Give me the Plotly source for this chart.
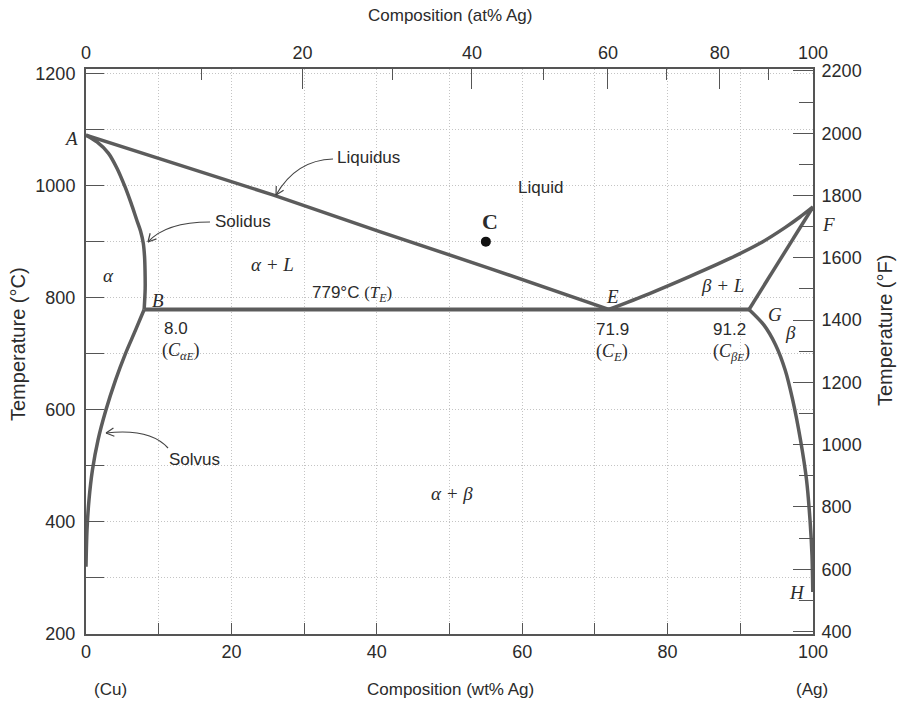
import math
import plotly.graph_objects as go

# ---------------- data ----------------
liq_left_wt = [0, 25.8, 40.4, 55.6, 71.9]
liq_left_T = [1090, 983, 918, 852, 779]

sol_left_wt = [0, 1.51, 3.07, 4.26, 5.36, 6.19, 6.97, 7.50, 7.88, 8.05, 8.12, 8.14, 8.0]
sol_left_T = [1090, 1078, 1058, 1031, 998, 969, 939, 919, 897, 874, 849, 817, 779]

solvus_left_wt = [8.0, 6.81, 5.36, 4.06, 2.75, 1.65, 0.89, 0.41, 0.14, 0.0]
solvus_left_T = [779, 742, 698, 653, 600, 546, 493, 439, 386, 320]

eutectic_wt = [8.0, 71.9, 91.2]
eutectic_T = [779, 779, 779]

liq_right_wt = [71.9, 77.44, 83.08, 88.58, 92.71, 96.15, 98.21, 100]
liq_right_T = [779, 807, 838, 870, 897, 925, 944, 962]

sol_right_wt = [91.2, 100]
sol_right_T = [779, 962]

solvus_right_wt = [91.2, 93.26, 94.84, 96.17, 97.2, 98.28, 99.11, 99.59, 99.86, 99.97]
solvus_right_T = [779, 751, 716, 671, 618, 546, 475, 403, 341, 275]

point_C_wt = [55]
point_C_T = [900]

wt_ticks = [0, 20, 40, 60, 80, 100]
at_major = [0, 20, 40, 60, 80, 100]
at_minor = [10, 30, 50, 70, 90]
c_ticks = [200, 400, 600, 800, 1000, 1200]
f_ticks = [400, 600, 800, 1000, 1200, 1400, 1600, 1800, 2000, 2200]

T_MIN, T_MAX = 200, 1208
M_AG, M_CU = 107.87, 63.55


def at_to_wt(a):
    return 100 * a * M_AG / (a * M_AG + (100 - a) * M_CU)


def c_to_f(c):
    return c * 1.8 + 32


# ---------------- layout geometry ----------------
W, H = 899, 704
L, R, T, B = 86, 86, 69, 70
PW, PH = W - L - R, H - T - B


def px(xp):
    return (xp - L) / PW


def py(yp):
    return (H - B - yp) / PH


LINE = "#5c5c5c"
TXT = "#2b2b2b"
SANS = "Liberation Sans"
SERIF = "Liberation Serif"
GRIDC = "#c4c4c4"
GDASH = "1px,2px"

fig = go.Figure()


def curve(xs, ys, width=3.5, shape="linear"):
    fig.add_trace(go.Scatter(x=xs, y=ys, mode="lines",
                             line=dict(color=LINE, width=width, shape=shape, smoothing=0.9),
                             hoverinfo="skip", showlegend=False))


curve(liq_left_wt, liq_left_T)
curve(sol_left_wt, sol_left_T, shape="spline")
curve(solvus_left_wt, solvus_left_T, shape="spline")
curve(eutectic_wt, eutectic_T, width=4)
curve(liq_right_wt, liq_right_T, shape="spline")
curve(sol_right_wt, sol_right_T)
curve(solvus_right_wt, solvus_right_T, shape="spline")

fig.add_trace(go.Scatter(x=point_C_wt, y=point_C_T, mode="markers",
                         marker=dict(color="#111", size=10), showlegend=False, hoverinfo="skip"))

# invisible trace to activate secondary axes
fig.add_trace(go.Scatter(x=[0], y=[c_to_f(T_MIN)], xaxis="x2", yaxis="y2", mode="markers",
                         marker=dict(opacity=0), showlegend=False, hoverinfo="skip"))

axis_common = dict(showline=True, linecolor="#555", linewidth=2, zeroline=False,
                   automargin=False,
                   tickfont=dict(family=SANS, size=18, color=TXT), tickcolor="#555")
grid = dict(showgrid=True, gridcolor=GRIDC, griddash=GDASH, gridwidth=1)

fig.update_layout(
    width=W, height=H, margin=dict(l=L, r=R, t=T, b=B, autoexpand=False),
    paper_bgcolor="white", plot_bgcolor="white",
    xaxis=dict(range=[0, 100], tickmode="array", tickvals=wt_ticks,
               ticktext=[str(v) for v in wt_ticks], ticks="inside", ticklen=0,
               ticklabelstandoff=0,
               minor=dict(dtick=10, ticks="inside", ticklen=11, tickcolor="#555",
                          showgrid=True, gridcolor=GRIDC, griddash=GDASH),
               **grid, **axis_common),
    yaxis=dict(range=[T_MIN, T_MAX], tickmode="array", tickvals=c_ticks,
               ticktext=[str(v) for v in c_ticks], ticks="inside", ticklen=18,
               ticklabelstandoff=5,
               minor=dict(dtick=100, ticks="inside", ticklen=18, tickcolor="#555",
                          showgrid=True, gridcolor=GRIDC, griddash=GDASH),
               **grid, **axis_common),
    xaxis2=dict(overlaying="x", side="top", anchor="y", range=[0, 100],
                tickmode="array", tickvals=[at_to_wt(a) for a in at_major],
                ticktext=[str(a) for a in at_major], ticks="inside", ticklen=20,
                ticklabelstandoff=1, showgrid=False,
                minor=dict(tickmode="array", tickvals=[at_to_wt(a) for a in at_minor],
                           ticks="inside", ticklen=11, tickcolor="#555", showgrid=False),
                **axis_common),
    yaxis2=dict(overlaying="y", side="right", anchor="x",
                range=[c_to_f(T_MIN), c_to_f(T_MAX)],
                tickmode="array", tickvals=f_ticks, ticktext=[str(v) for v in f_ticks],
                ticks="inside", ticklen=20, ticklabelstandoff=3, showgrid=False,
                minor=dict(dtick=100, tick0=400, ticks="inside", ticklen=14, tickcolor="#555",
                           showgrid=False),
                **axis_common),
)

annotations = []


def text(x, y, s, size=17, family=SANS, ref="data", angle=0):
    a = dict(x=x, y=y, text=s, showarrow=False, textangle=angle,
             font=dict(family=family, size=size, color=TXT),
             xanchor="center", yanchor="middle")
    if ref == "paper":
        a.update(xref="paper", yref="paper")
    else:
        a.update(xref="x", yref="y")
    annotations.append(a)


def ptext(xp, yp, s, **kw):
    text(px(xp), py(yp), s, ref="paper", **kw)


# axis titles / side labels
ptext(450, 15, "Composition (at% Ag)")
ptext(450, 690, "Composition (wt% Ag)")
ptext(110, 690, "(Cu)")
ptext(812, 690, "(Ag)")
ptext(18, 344, "Temperature (°C)", angle=-90, size=20)
ptext(885, 331, "Temperature (°F)", angle=-90, size=20)

# math labels (italic serif)
for (xp, yp, s) in [(71, 138, "A"), (158, 300, "B"), (612, 296, "E"), (828, 224, "F"),
                    (775, 314, "G"), (797, 592, "H"), (108, 275, "α"),
                    (272, 264, "α + L"), (722, 285, "β + L"), (790, 332, "β"),
                    (452, 493, "α + β")]:
    ptext(xp, yp, "<i>" + s + "</i>", family=SERIF, size=19)

ptext(490, 221, "<b>C</b>", family=SERIF, size=22)
ptext(540, 187, "Liquid")
ptext(368, 157, "Liquidus")
ptext(243, 222, "Solidus")
ptext(194, 460, "Solvus")

SER = "<span style='font-family:Liberation Serif'>"
ptext(352, 294, "779°C " + SER + "(<i>T</i><sub><i>E</i></sub>)</span>")
ptext(176, 328, "8.0")
ptext(612, 329, "71.9")
ptext(729, 329, "91.2")
ptext(180, 351, SER + "(<i>C</i><sub><i>α</i></sub><sub><span style='font-size:11px'><i>E</i></span></sub>)</span>", size=18)
ptext(612, 352, SER + "(<i>C</i><sub><i>E</i></sub>)</span>", size=18)
ptext(731, 352, SER + "(<i>C</i><sub><i>β</i></sub><sub><span style='font-size:11px'><i>E</i></span></sub>)</span>", size=18)

fig.update_layout(annotations=annotations)

# curved leader arrows
shapes = []


def arrow(start, ctrl, tip):
    sx, sy = start
    cx, cy = ctrl
    tx, ty = tip
    path = "M {},{} Q {},{} {},{}".format(px(sx), py(sy), px(cx), py(cy), px(tx), py(ty))
    shapes.append(dict(type="path", path=path, xref="paper", yref="paper",
                       line=dict(color="#444", width=1.2)))
    dx, dy = tx - cx, ty - cy
    n = math.hypot(dx, dy)
    dx, dy = dx / n, dy / n
    for ang in (28, -28):
        r = math.radians(ang)
        wx = dx * math.cos(r) - dy * math.sin(r)
        wy = dx * math.sin(r) + dy * math.cos(r)
        ex, ey = tx - 9 * wx, ty - 9 * wy
        shapes.append(dict(type="line", xref="paper", yref="paper",
                           x0=px(tx), y0=py(ty), x1=px(ex), y1=py(ey),
                           line=dict(color="#444", width=1.2)))


arrow((333, 159), (296, 160), (276, 195))
arrow((210, 222), (166, 222), (148, 242))
arrow((168, 448), (150, 428), (106, 433))

fig.update_layout(shapes=shapes)

fig.write_html("out.html", config={"displayModeBar": False},
               post_script="document.body.style.margin='0';document.body.style.overflow='hidden';")
